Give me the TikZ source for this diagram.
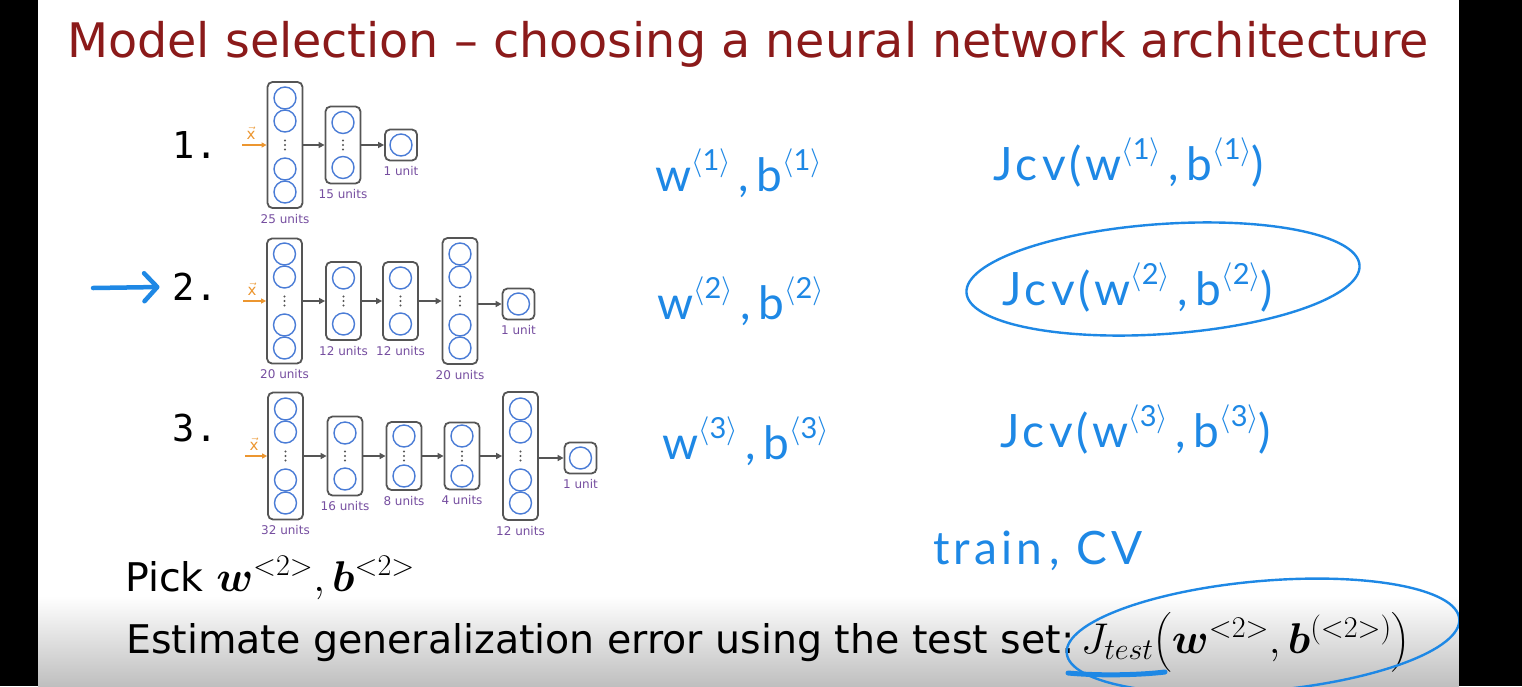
\RequirePackage{fix-cm}
\documentclass[tikz,border=0pt]{standalone}
\usepackage{amsmath,bm}
\usepackage{fontspec}
\setmainfont{DejaVu Sans}
\newfontfamily\monofont{DejaVu Sans Mono}
\newfontfamily\handfont[LetterSpace=9]{Lato}
\usetikzlibrary{positioning,arrows.meta}

\definecolor{titlered}{RGB}{139,26,26}
\definecolor{inkblue}{RGB}{30,136,229}
\definecolor{unitblue}{RGB}{74,124,214}
\definecolor{boxgray}{RGB}{85,85,85}
\definecolor{labelpurple}{RGB}{118,78,160}
\definecolor{xorange}{RGB}{236,150,48}

% handwritten superscript <k>
\newcommand{\hsup}[1]{\raisebox{0.45em}{\fontsize{29}{29}\selectfont$\langle$#1$\rangle$}}
% slide formulas, a little larger than the text
\newcommand{\slidemath}[1]{{\fontsize{43}{46}\selectfont$#1$}}

% layer of units: name, position, box height, circle offsets, label
\newcommand{\nnlayer}[5]{%
  \node[layerbox,minimum height=#3] (#1) at (#2) {};
  \foreach \dy [count=\k] in {#4}
    \node[unit] (#1u\k) at ([yshift=\dy]#1.center) {};
  \foreach \dd in {-4.5,0,4.5}
    \fill[boxgray] ([yshift=\dd]#1.center) circle (1.1);
  \node[unitlabel,below=4pt of #1] (#1l) {#5};
}
% output layer: name, position
\newcommand{\nnout}[2]{%
  \node[layerbox,minimum width=32,minimum height=31] (#1) at (#2) {};
  \node[unit] (#1u) at (#1.center) {};
  \node[unitlabel,below=4pt of #1] (#1l) {1 unit};
}

\begin{document}
\begin{tikzpicture}[x=1pt,y=-1pt,
  layerbox/.style={draw=boxgray,line width=1.8pt,rounded corners=5pt,minimum width=35,inner sep=0},
  unit/.style={circle,draw=unitblue,line width=1.4pt,minimum size=22,inner sep=0},
  conn/.style={draw=boxgray,line width=1.6pt,-{Triangle[length=6pt,width=6pt]}},
  inarrow/.style={draw=xorange,line width=1.6pt,-{Triangle[length=5pt,width=5pt]}},
  xin/.style={text=xorange,font=\fontsize{15}{15}\selectfont,inner sep=0},
  unitlabel/.style={text=labelpurple,font=\fontsize{12}{12}\selectfont,inner sep=1pt},
  numlabel/.style={font=\monofont\fontsize{37}{40}\selectfont,inner sep=0},
  hand/.style={text=inkblue,font=\handfont\fontsize{46}{50}\selectfont,inner sep=0,anchor=base west},
  ink/.style={draw=inkblue,line width=2.4pt,line cap=round},
  slide/.style={font=\fontsize{39.5}{46}\selectfont,inner sep=0,anchor=base west}]
  \useasboundingbox (0,0) rectangle (1522,686);
  \fill[white] (0,0) rectangle (1522,686);
  \shade[top color=white,bottom color=gray!50] (38,596) rectangle (1459,686);

  % title
  \node[text=titlered,font=\fontsize{47.6}{56}\selectfont,inner sep=0,anchor=base] (title) at (748,57)
    {Model selection -- choosing a neural network architecture};

  % numbers
  \node[numlabel] (num1) at (195,145) {1.};
  \node[numlabel] (num2) at (195,287) {2.};
  \node[numlabel] (num3) at (195,428) {3.};
  \coordinate (pick) at (93,288);
  \draw[inkblue,line width=4.5pt,line cap=round,-{Straight Barb[round,length=13pt,width=28pt]}]
    (pick) -- ([xshift=-13pt]num2.west);

  % network 1
  \begin{scope}
    \coordinate (a0) at (242,145);
    \node[xin] (a0x) at (251,133) {$\vec{\mathrm{x}}$};
    \nnlayer{a1}{285,145}{126}{47,24,-24,-47}{25 units}
    \nnlayer{a2}{343,145}{77}{22.5,-22.5}{15 units}
    \nnout{a3}{401,145}
    \draw[inarrow] (a0) -- (a1);
    \draw[conn] (a1) -- (a2);
    \draw[conn] (a2) -- (a3);
  \end{scope}

  % network 2
  \begin{scope}
    \coordinate (b0) at (243,301);
    \node[xin] (b0x) at (252,289) {$\vec{\mathrm{x}}$};
    \nnlayer{b1}{284.5,301}{125}{47,24,-24,-47}{20 units}
    \nnlayer{b2}{343.5,301}{78}{23,-23}{12 units}
    \nnlayer{b3}{400.5,301}{78}{23,-23}{12 units}
    \nnlayer{b4}{460,301}{126}{47,24,-24,-47}{20 units}
    \nnout{b5}{518.5,304}
    \draw[inarrow] (b0) -- (b1);
    \foreach \p/\q in {b1/b2,b2/b3,b3/b4}
      \draw[conn] (\p) -- (\q);
    \draw[conn] (b4.east |- b5) -- (b5);
  \end{scope}

  % network 3
  \begin{scope}
    \coordinate (c0) at (245,456);
    \node[xin] (c0x) at (254,444) {$\vec{\mathrm{x}}$};
    \nnlayer{c1}{285.5,456}{127}{47,24,-24,-47}{32 units}
    \nnlayer{c2}{345,456}{79}{23,-23}{16 units}
    \nnlayer{c3}{404,456}{68}{20,-20}{8 units}
    \nnlayer{c4}{462,456}{67}{20,-20}{4 units}
    \nnlayer{c5}{520.5,456}{128}{47,24,-24,-47}{12 units}
    \nnout{c6}{580.5,458}
    \draw[inarrow] (c0) -- (c1);
    \foreach \p/\q in {c1/c2,c2/c3,c3/c4,c4/c5}
      \draw[conn] (\p) -- (\q);
    \draw[conn] (c5.east |- c6) -- (c6);
  \end{scope}

  % handwritten parameters and costs
  \node[hand] (wb1) at (655,191) {w\hsup{1}\,,\,b\hsup{1}};
  \node[hand] (wb2) at (657,319) {w\hsup{2}\,,\,b\hsup{2}};
  \node[hand] (wb3) at (662,459) {w\hsup{3}\,,\,b\hsup{3}};
  \node[hand] (jcv1) at (993,180) {Jcv(w\hsup{1}\,,\,b\hsup{1})};
  \node[hand] (jcv2) at (1002,305) {Jcv(w\hsup{2}\,,\,b\hsup{2})};
  \node[hand] (jcv3) at (1000,447) {Jcv(w\hsup{3}\,,\,b\hsup{3})};
  \draw[ink] (1163,279) ellipse [x radius=197,y radius=55,rotate=4];
  \node[hand] (traincv) at (933,564) {train\,,\ CV};

  % bottom lines
  \node[slide] (pickwb) at (125,591) {Pick \slidemath{\bm{w}^{<2>},\bm{b}^{<2>}}};
  \node[slide] (estimate) at (126,653)
    {Estimate generalization error using the test set:\,\slidemath{J_{test}\big(\bm{w}^{<2>},\bm{b}^{(<2>)}\big)}};
  \draw[ink] (1263,636) ellipse [x radius=197,y radius=55,rotate=5];
  \draw[inkblue,line width=5pt,line cap=round] (1068,673) .. controls (1100,676) and (1140,675) .. (1165,672);

  % video borders
  \fill[black] (0,0) rectangle (38,686);
  \fill[black] (1459,0) rectangle (1522,686);
\end{tikzpicture}
\end{document}
